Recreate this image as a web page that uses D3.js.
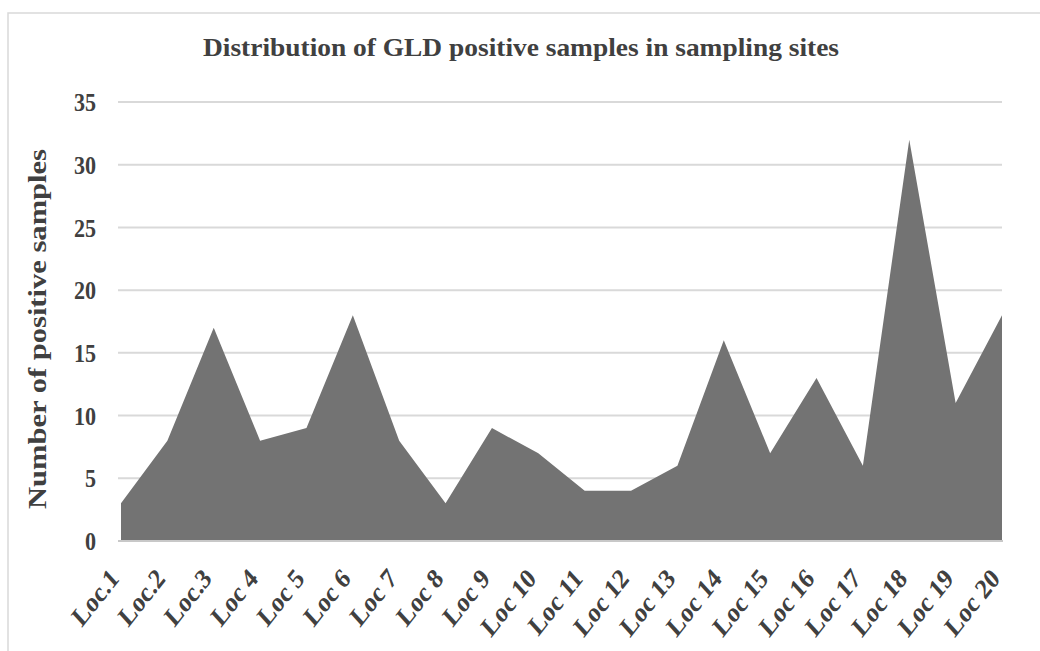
<!DOCTYPE html>
<html>
<head>
<meta charset="utf-8">
<script src="https://cdn.jsdelivr.net/npm/d3@7"></script>
<style>
  body { margin: 0; background: #fff; }
  text { font-family: "Liberation Serif", "Times New Roman", serif; font-weight: bold; fill: #404040; }
</style>
</head>
<body>
<script>
// data
var locations = ["Loc.1", "Loc.2", "Loc.3", "Loc 4", "Loc 5", "Loc 6", "Loc 7", "Loc 8", "Loc 9", "Loc 10",
                 "Loc 11", "Loc 12", "Loc 13", "Loc 14", "Loc 15", "Loc 16", "Loc 17", "Loc 18", "Loc 19", "Loc 20"];
var positives = [3, 8, 17, 8, 9, 18, 8, 3, 9, 7, 4, 4, 6, 16, 7, 13, 6, 32, 11, 18];
var yTicks = [0, 5, 10, 15, 20, 25, 30, 35];

var width = 1040, height = 651;
var plotLeft = 121, plotRight = 1002, plotTop = 102, plotBottom = 541;

var svg = d3.select("body").append("svg")
    .attr("width", width)
    .attr("height", height);

// chart border
svg.append("rect")
    .attr("x", 8).attr("y", 13)
    .attr("width", 1040).attr("height", 700)
    .attr("fill", "none")
    .attr("stroke", "#d9d9d9")
    .attr("stroke-width", 1.5);

var x = d3.scalePoint().domain(locations).range([plotLeft, plotRight]);
var y = d3.scaleLinear().domain([0, 35]).range([plotBottom, plotTop]);

// gridlines
svg.append("g").selectAll("line")
    .data(yTicks.filter(d => d > 0))
    .enter().append("line")
    .attr("x1", plotLeft - 3).attr("x2", plotRight)
    .attr("y1", d => y(d)).attr("y2", d => y(d))
    .attr("stroke", "#d9d9d9")
    .attr("stroke-width", 2);

// area
var area = d3.area()
    .x((d, i) => x(locations[i]))
    .y0(y(0))
    .y1(d => y(d));

svg.append("path")
    .datum(positives)
    .attr("d", area)
    .attr("fill", "#737373");

// x axis line
svg.append("line")
    .attr("x1", plotLeft - 3).attr("x2", plotRight + 1)
    .attr("y1", y(0)).attr("y2", y(0))
    .attr("stroke", "#c8c8c8")
    .attr("stroke-width", 2);

// y tick labels (slightly condensed like the reference)
svg.append("g").selectAll("text")
    .data(yTicks)
    .enter().append("text")
    .attr("transform", d => "translate(96," + y(d) + ") scale(0.85,1)")
    .attr("dy", "0.35em")
    .attr("text-anchor", "end")
    .style("font-size", "26px")
    .text(d => d);

// x labels rotated
svg.append("g").selectAll("text")
    .data(locations)
    .enter().append("text")
    .attr("transform", d => "translate(" + (x(d) - 7) + "," + 573 + ") scale(0.85,1) rotate(-47)")
    .attr("text-anchor", "end")
    .attr("dy", "0.35em")
    .style("font-size", "28px")
    .text(d => d);

// y axis title
svg.append("text")
    .attr("transform", "translate(46,329) rotate(-90)")
    .attr("text-anchor", "middle")
    .attr("textLength", 360)
    .attr("lengthAdjust", "spacingAndGlyphs")
    .style("font-size", "25px")
    .text("Number of positive samples");

// title
svg.append("text")
    .attr("x", 521)
    .attr("y", 56)
    .attr("text-anchor", "middle")
    .attr("textLength", 636)
    .attr("lengthAdjust", "spacingAndGlyphs")
    .style("font-size", "25px")
    .text("Distribution of GLD positive samples in sampling sites");
</script>
</body>
</html>
